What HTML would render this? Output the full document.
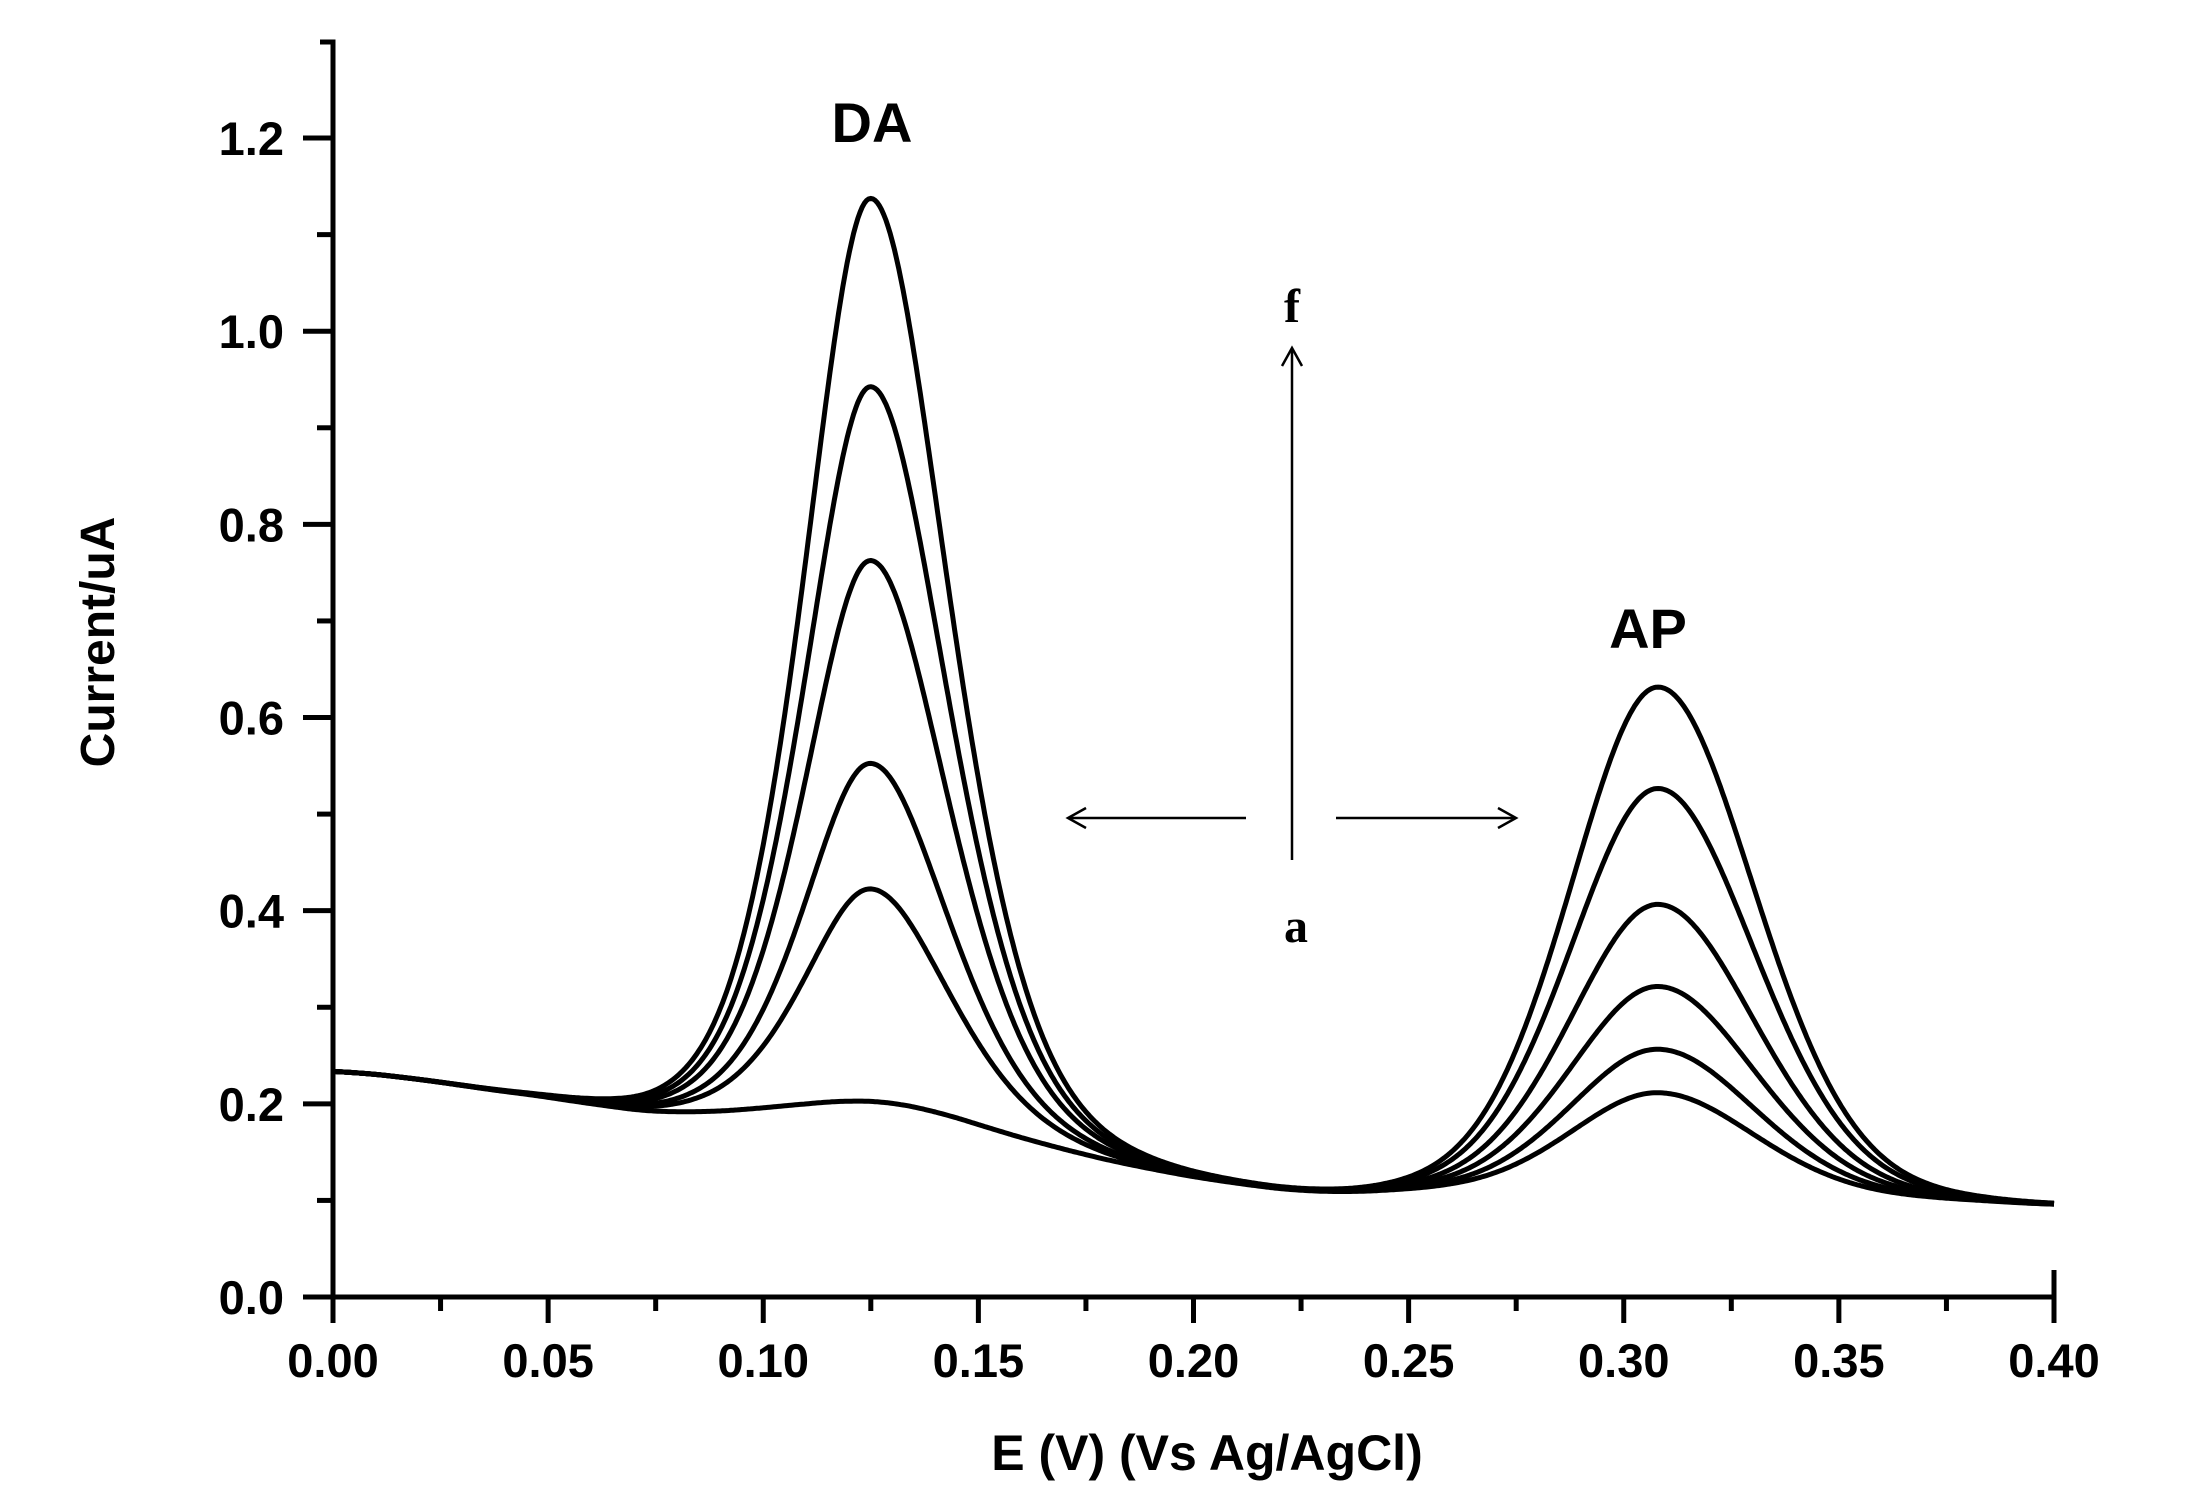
<!DOCTYPE html>
<html><head><meta charset="utf-8"><style>html,body{margin:0;padding:0;background:#fff}svg{display:block}</style></head>
<body>
<svg id="s" width="2188" height="1500" xmlns="http://www.w3.org/2000/svg" font-family="Liberation Sans, Arial, sans-serif">
<rect width="2188" height="1500" fill="#fff"/>
<g stroke="#000" stroke-width="5" fill="none">
<path d="M320 42 H333 V1297 H2054 V1270"/>
</g>
<g id="ticks" stroke="#000" stroke-width="5"></g>
<g id="labels" font-weight="bold" font-size="47" fill="#000"></g>
<g id="curves" stroke="#000" stroke-width="5" fill="none" stroke-linejoin="round"></g>
<text x="872" y="142" font-size="56" font-weight="bold" text-anchor="middle">DA</text>
<text x="1648" y="648" font-size="56" font-weight="bold" text-anchor="middle">AP</text>
<g stroke="#000" stroke-width="2.5" fill="none">
<line x1="1292" y1="860" x2="1292" y2="348"/>
<polyline points="1282,366 1292,348 1302,366"/>
<line x1="1246" y1="818" x2="1068" y2="818"/>
<polyline points="1086,808 1068,818 1086,828"/>
<line x1="1336" y1="818" x2="1516" y2="818"/>
<polyline points="1498,808 1516,818 1498,828"/>
</g>
<text x="1292" y="322" font-size="48" font-weight="bold" font-family="Liberation Serif, serif" text-anchor="middle">f</text>
<text x="1296" y="942" font-size="48" font-weight="bold" font-family="Liberation Serif, serif" text-anchor="middle">a</text>
<text transform="translate(114,642) rotate(-90)" font-size="48" font-weight="bold" text-anchor="middle">Current/uA</text>
<text x="1207" y="1470" font-size="50" font-weight="bold" text-anchor="middle">E (V) (Vs Ag/AgCl)</text>
</svg>
<script>
var NS="http://www.w3.org/2000/svg";
function px(v){return 333+v*4302.5;}
function py(i){return 1297-i*965.8;}
function el(p,t,a,txt){var e=document.createElementNS(NS,t);for(var k in a)e.setAttribute(k,a[k]);if(txt!=null)e.textContent=txt;document.getElementById(p).appendChild(e);}
for(var i=0;i<=12;i++){var y=py(i*0.1);var L=(i%2==0)?30:16;el("ticks","line",{x1:333-L,y1:y,x2:333,y2:y});
 if(i%2==0)el("labels","text",{x:284,y:y+17,"text-anchor":"end"},(i/10).toFixed(1));}
for(var i=0;i<=16;i++){var x=px(i*0.025);var L=(i%2==0)?26:14;el("ticks","line",{x1:x,y1:1297,x2:x,y2:1297+L});
 if(i%2==0)el("labels","text",{x:x,y:1377,"text-anchor":"middle"},(i*0.025).toFixed(2));}
var B=[[0,0.235],[0.02,0.226],[0.04,0.212],[0.055,0.205],[0.065,0.195],[0.08,0.19],[0.1,0.195],[0.115,0.203],[0.125,0.205],[0.135,0.2],[0.15,0.178],[0.17,0.152],[0.19,0.132],[0.21,0.117],[0.23,0.107],[0.25,0.11],[0.3,0.105],[0.38,0.1],[0.40,0.095]];
function base0(E){for(var i=0;i<B.length-1;i++){if(E<=B[i+1][0]){var t=(E-B[i][0])/(B[i+1][0]-B[i][0]);return B[i][1]+t*(B[i+1][1]-B[i][1]);}}return B[B.length-1][1];}
function base(E){var s=0,n=0;for(var k=-6;k<=6;k++){s+=base0(Math.min(0.4,Math.max(0,E+k*0.002)));n++;}return s/n;}
function sech(x){return 2/(Math.exp(x)+Math.exp(-x));}
function sh(E,m,wl,wr){var w=E<m?wl:wr;return sech((E-m)/w);}
function g(E,m,sl,sr){var s=E<m?sl:sr;return Math.exp(-0.5*Math.pow((E-m)/s,2));}
var DA=[0,0.22,0.35,0.56,0.74,0.935];
var AP=[0.107,0.152,0.217,0.302,0.422,0.527];
for(var c=0;c<6;c++){var d="";for(var k=0;k<=800;k++){var E=k*0.0005;
 var v=base(E)+DA[c]*(0.5*sh(E,0.125,0.0125,0.0145)+0.5*g(E,0.125,0.0165,0.019))+AP[c]*(0.8*g(E,0.308,0.021,0.023)+0.2*sh(E,0.308,0.016,0.018));
 d+=(k?"L":"M")+px(E).toFixed(1)+" "+py(v).toFixed(1);}
 el("curves","path",{d:d});}
</script>
</body></html>
